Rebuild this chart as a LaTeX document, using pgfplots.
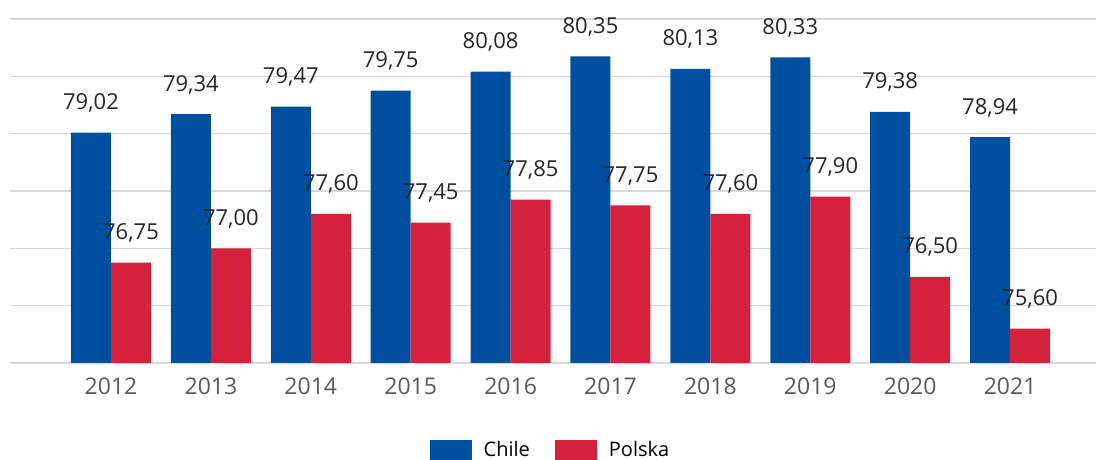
\documentclass[border=0pt]{standalone}
\usepackage{fontspec}
\setmainfont{Open Sans}
\usepackage{pgfplots}
\pgfplotsset{compat=1.18}

\definecolor{chile}{HTML}{0150A0}
\definecolor{polska}{HTML}{D4213D}
\definecolor{gridc}{HTML}{D9D9D9}
\definecolor{yearc}{HTML}{595959}
\definecolor{valc}{HTML}{262626}

\begin{document}
\begin{tikzpicture}
\begin{axis}[
    name=ax,
    scale only axis,
    width=543pt, height=172pt,
    xmin=-1.011, xmax=9.86,
    ymin=75, ymax=81,
    ybar=0pt, bar width=20pt,
    axis line style={draw=none},
    major tick length=0pt,
    ytick={75,76,...,81},
    yticklabels={},
    ymajorgrids,
    grid style={gridc, line width=0.8pt},
    xtick={0,...,9},
    xticklabels={2012,2013,2014,2015,2016,2017,2018,2019,2020,2021},
    xticklabel style={font=\fontsize{11.5pt}{13pt}\selectfont, text=yearc, yshift=-4pt},
    nodes near coords,
    every node near coord/.append style={font=\fontsize{11pt}{13pt}\selectfont, text=valc, anchor=base, yshift=11.5pt},
    /pgf/number format/.cd, use comma, fixed, fixed zerofill, precision=2, assume math mode=true,
    /pgfplots/.cd,
    legend style={at={(0.4986,-0.253)}, anchor=center, draw=none, font=\fontsize{10pt}{12pt}\selectfont,
        legend columns=2, /tikz/every even column/.append style={column sep=10.5pt}},
    legend image code/.code={\fill[#1] (0pt,-5pt) rectangle (21pt,5pt); \path (25pt,0pt);},
]
\addplot[fill=chile, draw=none] coordinates {
    (0,79.02) (1,79.34) (2,79.47) (3,79.75) (4,80.08)
    (5,80.35) (6,80.13) (7,80.33) (8,79.38) (9,78.94)
};
\addplot[fill=polska, draw=none] coordinates {
    (0,76.75) (1,77.00) (2,77.60) (3,77.45) (4,77.85)
    (5,77.75) (6,77.60) (7,77.90) (8,76.50) (9,75.60)
};
\legend{Chile,Polska}
\end{axis}
\pgfresetboundingbox
\path[use as bounding box] ([shift={(-5pt,-48.5pt)}]ax.south west) rectangle ([shift={(0pt,9.5pt)}]ax.north east);
\end{tikzpicture}
\end{document}
